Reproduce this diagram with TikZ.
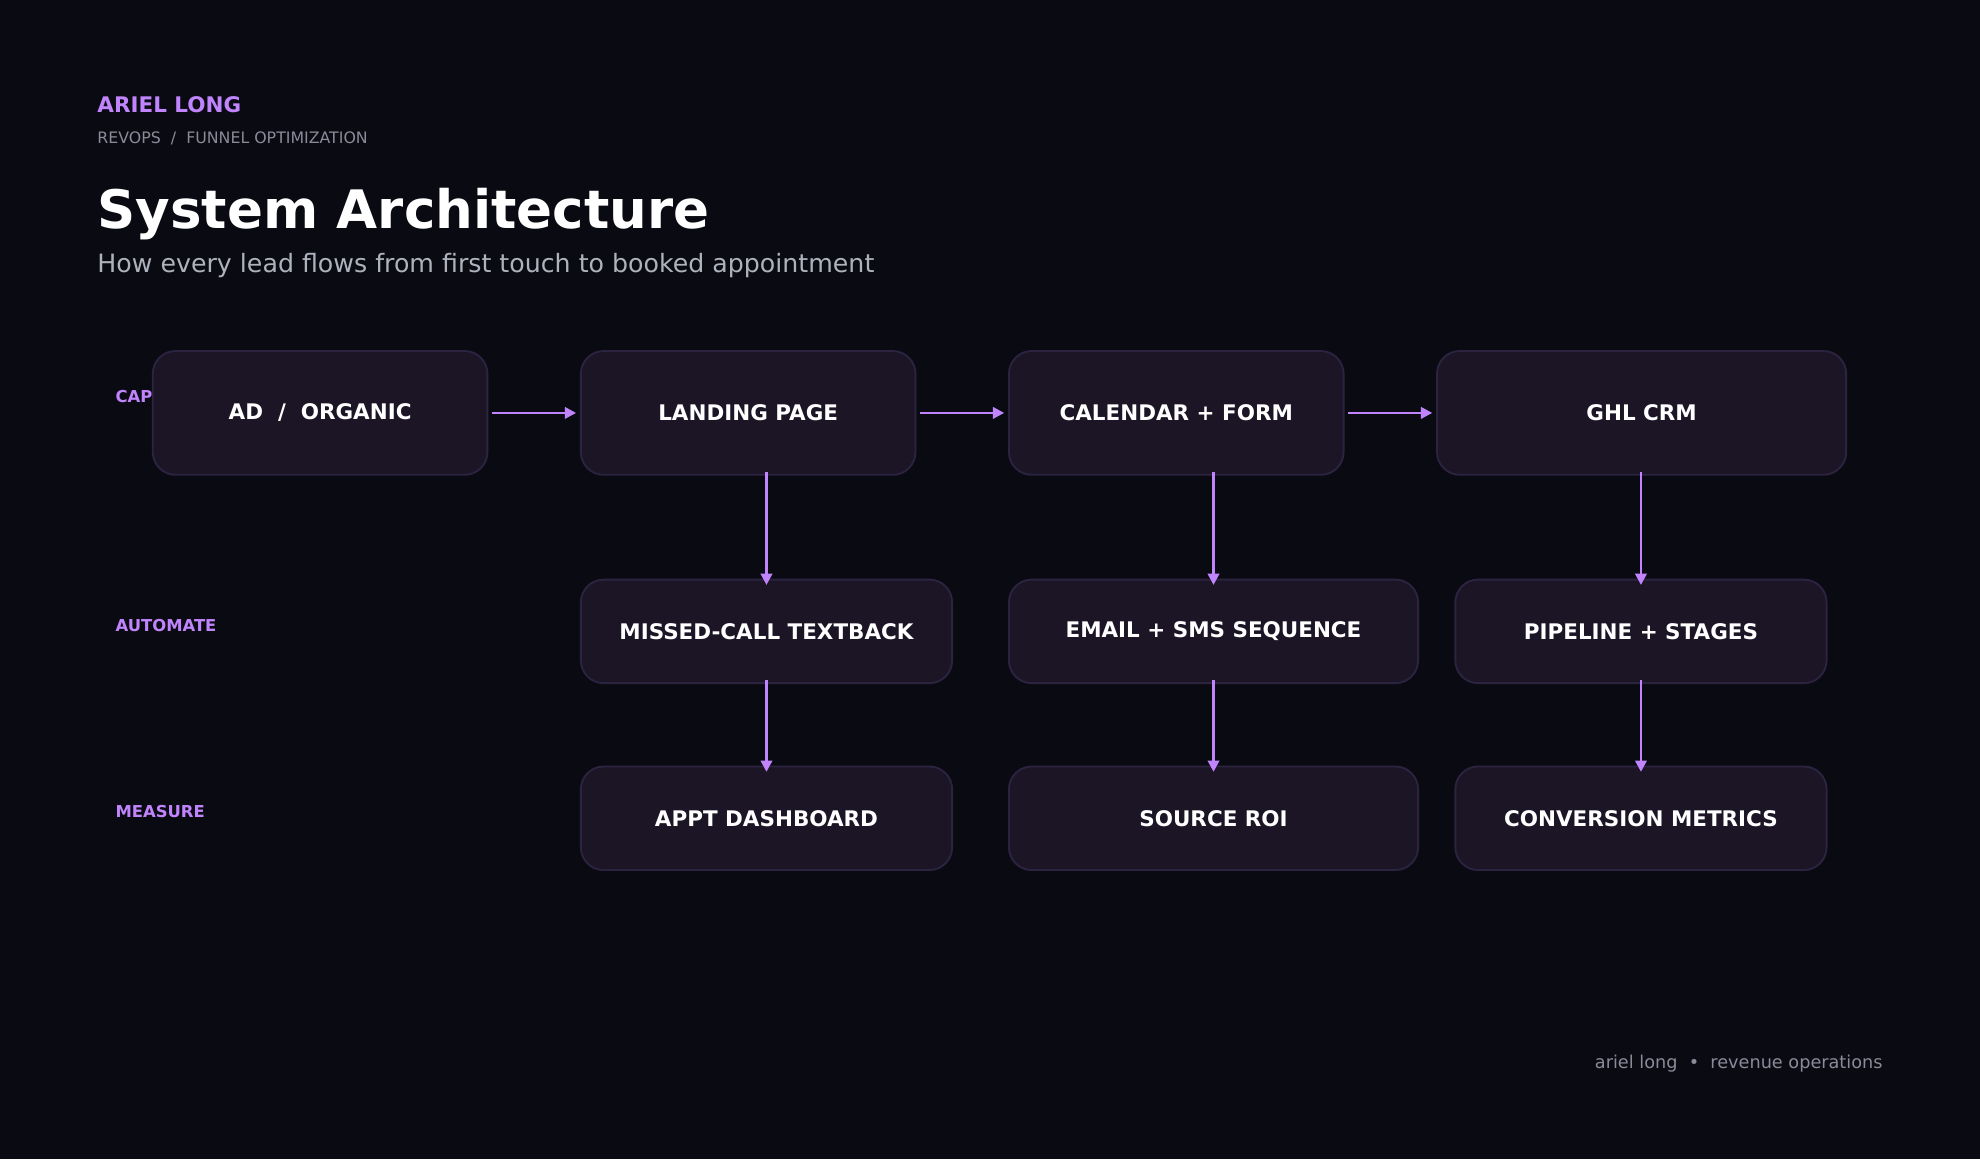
\documentclass[tikz,border=0pt]{standalone}
\usepackage{fontspec}
\setmainfont{DejaVu Sans}
\usetikzlibrary{arrows.meta}
\definecolor{bg}{HTML}{0A0B12}
\definecolor{boxf}{HTML}{1B1526}
\definecolor{boxd}{HTML}{2C2340}
\definecolor{pur}{HTML}{C084FC}
\definecolor{gr}{HTML}{8A8A9A}
\definecolor{sub}{HTML}{AEB2BD}
\begin{document}
\begin{tikzpicture}[x=1pt,y=-1pt,
 box/.style={draw=boxd,line width=1.5pt,fill=boxf,rounded corners=18pt,text=white,font=\bfseries\fontsize{17}{20}\selectfont,inner sep=0pt},
 arr/.style={draw=pur,line width=2.2pt,-{Triangle[length=9pt,width=9pt]}},
 lab/.style={anchor=west,text=pur,font=\bfseries\fontsize{13}{15}\selectfont}]
\fill[bg] (0,0) rectangle (1568,918);
\useasboundingbox (0,0) rectangle (1568,918);
\node[anchor=base west,text=pur,font=\bfseries\fontsize{17}{20}\selectfont,inner sep=0] (name) at (77,89) {ARIEL LONG};
\node[anchor=base west,text=gr,font=\fontsize{12.5}{15}\selectfont,inner sep=0] (tag) at (77,114) {REVOPS~~/~~FUNNEL OPTIMIZATION};
\node[anchor=base west,text=white,font=\bfseries\fontsize{42}{48}\selectfont,inner sep=0] (title) at (77,181) {System Architecture};
\node[anchor=base west,text=sub,font=\fontsize{20}{24}\selectfont,inner sep=0] (subt) at (77,216) {How every lead flows from first touch to booked appointment};
\node[lab] (l1) at (88,314) {CAPTURE};
\node[lab] (l2) at (88,495) {AUTOMATE};
\node[lab] (l3) at (88,643) {MEASURE};
\node[box,minimum width=265pt,minimum height=98pt] (ad) at (253.5,327) {AD~~/~~ORGANIC};
\node[box,minimum width=265pt,minimum height=98pt] (lp) at (592.5,327) {LANDING PAGE};
\node[box,minimum width=265pt,minimum height=98pt] (cal) at (931.5,327) {CALENDAR + FORM};
\node[box,minimum width=324pt,minimum height=98pt] (crm) at (1300,327) {GHL CRM};
\node[box,minimum width=294pt,minimum height=82pt] (mc) at (607,500) {MISSED-CALL TEXTBACK};
\node[box,minimum width=324pt,minimum height=82pt] (em) at (961,500) {EMAIL + SMS SEQUENCE};
\node[box,minimum width=294pt,minimum height=82pt] (pp) at (1299.5,500) {PIPELINE + STAGES};
\node[box,minimum width=294pt,minimum height=82pt] (ap) at (607,648) {APPT DASHBOARD};
\node[box,minimum width=324pt,minimum height=82pt] (sr) at (961,648) {SOURCE ROI};
\node[box,minimum width=294pt,minimum height=82pt] (cm) at (1299.5,648) {CONVERSION METRICS};
\draw[arr] ([xshift=3pt]ad.east) -- ([xshift=-3pt]lp.west);
\draw[arr] ([xshift=3pt]lp.east) -- ([xshift=-3pt]cal.west);
\draw[arr] ([xshift=3pt]cal.east) -- ([xshift=-3pt]crm.west);
\draw[arr] ([yshift=3pt]mc.north |- lp.south) -- ([yshift=-5pt]mc.north);
\draw[arr] ([yshift=3pt]em.north |- cal.south) -- ([yshift=-5pt]em.north);
\draw[arr] ([yshift=3pt]pp.north |- crm.south) -- ([yshift=-5pt]pp.north);
\draw[arr] ([yshift=3pt]mc.south) -- ([yshift=-5pt]ap.north);
\draw[arr] ([yshift=3pt]em.south) -- ([yshift=-5pt]sr.north);
\draw[arr] ([yshift=3pt]pp.south) -- ([yshift=-5pt]cm.north);
\node[anchor=base east,text=gr,font=\fontsize{14}{17}\selectfont,inner sep=0] (foot) at (1491,846) {ariel long~~•~~revenue operations};
\end{tikzpicture}
\end{document}
